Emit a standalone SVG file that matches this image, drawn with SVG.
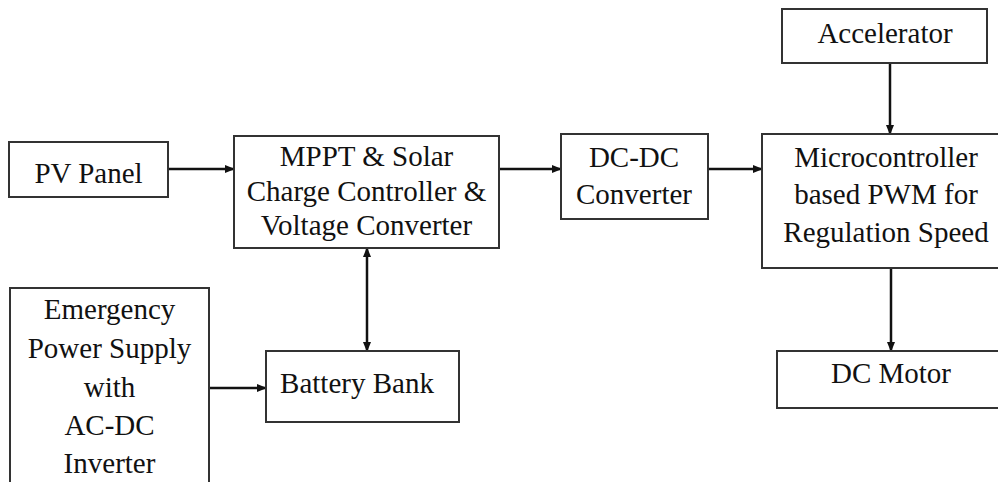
<svg xmlns="http://www.w3.org/2000/svg" width="998" height="482" viewBox="0 0 998 482">
<style>
.box{fill:#fff;stroke:#333;stroke-width:2}
.t{font-family:Liberation Serif,serif !important;font-size:29px;fill:#111;text-anchor:middle}
.c{stroke:#111;stroke-width:2.5;fill:none}
</style>
<defs>
<marker id="ah" markerUnits="userSpaceOnUse" markerWidth="10" markerHeight="8" refX="9" refY="4" orient="auto-start-reverse">
<path d="M0,0 L10,4 L0,8 Z" fill="#111"/>
</marker>
</defs>
<rect width="998" height="482" fill="#fff"/>
<g id="connectors">
<line class="c" x1="168" y1="169" x2="234" y2="169" marker-end="url(#ah)"/>
<line class="c" x1="499" y1="169" x2="561" y2="169" marker-end="url(#ah)"/>
<line class="c" x1="708" y1="169" x2="762" y2="169" marker-end="url(#ah)"/>
<line class="c" x1="890" y1="63" x2="890" y2="134" marker-end="url(#ah)"/>
<line class="c" x1="891" y1="268" x2="891" y2="351" marker-end="url(#ah)"/>
<line class="c" x1="367" y1="248" x2="367" y2="351" marker-start="url(#ah)" marker-end="url(#ah)"/>
<line class="c" x1="209" y1="388" x2="266" y2="388" marker-end="url(#ah)"/>
</g>
<g id="pv-panel">
<rect class="box" x="9" y="142" width="159" height="55"/>
<text class="t" x="88.5" y="183" style="font-family:'Liberation Serif',serif">PV Panel</text>
</g>
<g id="mppt">
<rect class="box" x="234" y="136" width="265" height="112"/>
<text class="t" x="366.5" y="166">MPPT &amp; Solar</text>
<text class="t" x="366.5" y="201">Charge Controller &amp;</text>
<text class="t" x="366.5" y="235">Voltage Converter</text>
</g>
<g id="dcdc">
<rect class="box" x="561" y="134" width="147" height="85"/>
<text class="t" x="634" y="167">DC-DC</text>
<text class="t" x="634" y="204">Converter</text>
</g>
<g id="accelerator">
<rect class="box" x="782" y="9" width="205" height="54"/>
<text class="t" x="885" y="43">Accelerator</text>
</g>
<g id="microcontroller">
<rect class="box" x="762" y="134" width="250" height="134"/>
<text class="t" x="886" y="167">Microcontroller</text>
<text class="t" x="886" y="204">based PWM for</text>
<text class="t" x="886" y="242">Regulation Speed</text>
</g>
<g id="dc-motor">
<rect class="box" x="777" y="351" width="240" height="57"/>
<text class="t" x="891" y="383">DC Motor</text>
</g>
<g id="battery">
<rect class="box" x="266" y="351" width="193" height="71"/>
<text class="t" x="357" y="393">Battery Bank</text>
</g>
<g id="emergency">
<rect class="box" x="10" y="288" width="199" height="210"/>
<text class="t" x="109.5" y="319">Emergency</text>
<text class="t" x="109.5" y="358">Power Supply</text>
<text class="t" x="109.5" y="397">with</text>
<text class="t" x="109.5" y="435">AC-DC</text>
<text class="t" x="109.5" y="473">Inverter</text>
</g>
</svg>
